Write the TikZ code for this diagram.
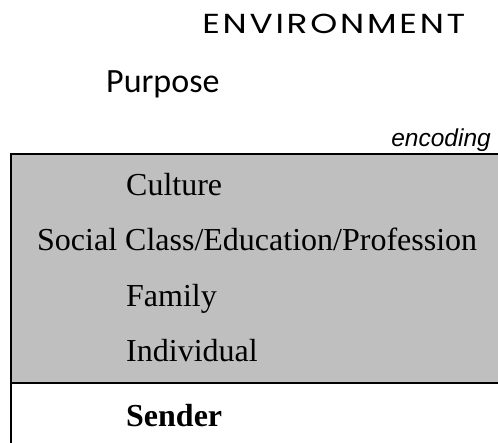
\documentclass[tikz,border=0pt]{standalone}
\usepackage{fontspec}
\setmainfont{Liberation Serif}
\newfontfamily\envfont[LetterSpace=8]{Poppins}
\newfontfamily\purposefont{Carlito}
\newfontfamily\codefont{Liberation Sans}

\begin{document}
\begin{tikzpicture}[x=1pt, y=-1pt,
  layer/.style={anchor=base west, inner sep=0pt, font=\fontsize{32}{36}\selectfont},
  label/.style={anchor=base west, inner sep=0pt}]
  \useasboundingbox (0,0) rectangle (498,443);
  % sender box
  \fill[gray!50] (11,154) rectangle (498,383);
  \draw[line width=2pt] (498,154) -- (11,154) -- (11,443);
  \draw[line width=2pt] (11,383) -- (498,383);
  % headings
  \node[label, xscale=1.25, font=\envfont\fontsize{27.5}{30}\selectfont] (env) at (202,34) {ENVIRONMENT};
  \node[label, font=\purposefont\fontsize{34}{38}\selectfont] (purpose) at (106,93) {Purpose};
  \node[label, anchor=base east, font=\codefont\itshape\fontsize{24.5}{28}\selectfont] (enc) at (491,147) {encoding};
  % layers
  \node[layer] (culture) at (126,196) {Culture};
  \node[layer] (social) at (37,251) {Social Class/Education/Profession};
  \node[layer] (family) at (126,307) {Family};
  \node[layer] (indiv) at (126,362) {Individual};
  \node[layer, font=\bfseries\fontsize{32}{36}\selectfont] (sender) at (126,426) {Sender};
\end{tikzpicture}
\end{document}
